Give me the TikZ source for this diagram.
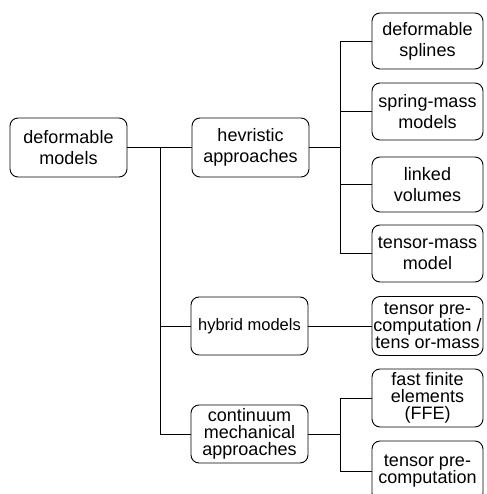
\documentclass[tikz,border=0pt]{standalone}
\usepackage{fontspec}
\setmainfont{Liberation Sans}
\begin{document}
\begin{tikzpicture}[x=1pt,y=-1pt,
  box/.style={draw, line width=0.9pt, rounded corners=8pt, align=center, inner sep=0pt,
    font=\fontsize{18}{21}\selectfont},
  lbox/.style={box, minimum width=117pt, minimum height=59pt},
  rbox/.style={box, minimum width=111pt, minimum height=57pt},
  tight/.style={font=\fontsize{18}{17}\selectfont},
  conn/.style={line width=0.9pt}]
\useasboundingbox (0,0) rectangle (486,494);
% left and middle column
\node[lbox] (root) at (68.5,147.5) {deformable\\models};
\node[lbox] (hev) at (250.5,147.5) {hevristic\\approaches};
\node[lbox, minimum height=58pt, font=\fontsize{16.5}{19}\selectfont] (hyb) at (249.5,326) {hybrid models};
\node[lbox, minimum height=58pt, tight] (cont) at (249.5,434) {continuum\\mechanical\\approaches};
% right column
\node[rbox, minimum height=56pt] (r1) at (427.5,41) {deformable\\splines};
\node[rbox] (r2) at (427.5,111.5) {spring-mass\\models};
\node[rbox, minimum height=55pt] (r3) at (427.5,184.5) {linked\\volumes};
\node[rbox] (r4) at (427.5,253.5) {tensor-mass\\model};
\node[rbox, minimum height=59pt, tight] (r5) at (427.5,326) {tensor pre-\\computation /\\tens or-mass};
\node[rbox, minimum height=58pt, tight] (r6) at (427.5,398) {fast finite\\elements\\(FFE)};
\node[rbox, minimum height=60pt, tight] (r7) at (427.5,471) {tensor pre-\\computation};
% junction coordinates
\coordinate (t0) at (160,147.5);
\coordinate (hj) at (340,147.5);
\coordinate (cj) at (340,434);
% connectors
\draw[conn] (root.east) -- (hev.west);
\draw[conn] (t0) |- (hyb.west);
\draw[conn] (t0) |- (cont.west);
\draw[conn] (hev.east) -- (hj);
\draw[conn] (hj) |- (r1.west);
\draw[conn] (hj) |- (r2.west);
\draw[conn] (hj) |- (r3.west);
\draw[conn] (hj) |- (r4.west);
\draw[conn] (hyb.east) -- (r5.west);
\draw[conn] (cont.east) -- (cj);
\draw[conn] (cj) |- (r6.west);
\draw[conn] (cj) |- (r7.west);
\end{tikzpicture}
\end{document}
